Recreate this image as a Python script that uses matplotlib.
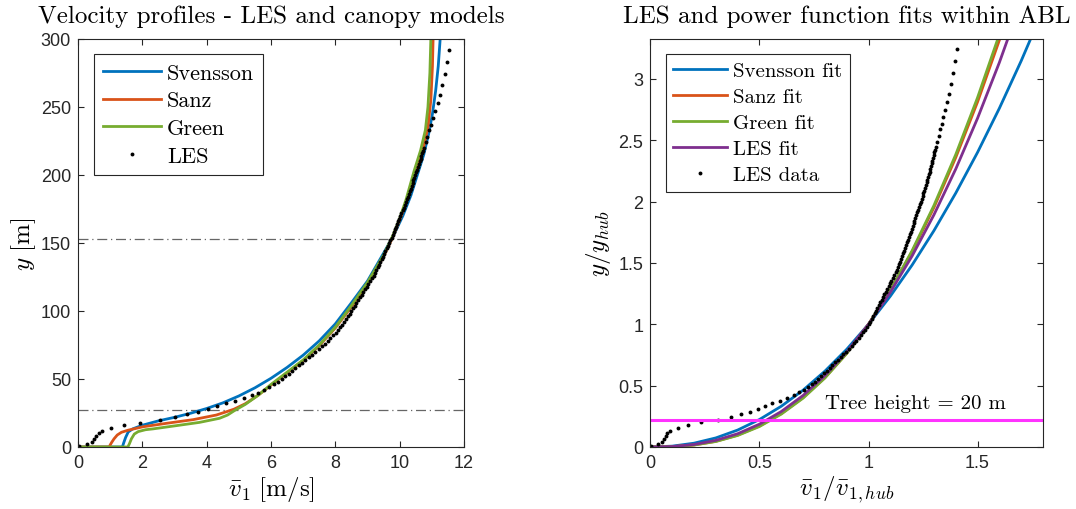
import matplotlib
matplotlib.use('Agg')
import matplotlib.pyplot as plt

plt.rcParams['mathtext.fontset'] = 'cm'
plt.rcParams['font.family'] = ['Liberation Sans', 'DejaVu Sans']

# LES profile: height [m] and mean streamwise velocity [m/s]
les_height = [1, 2, 4, 6, 8, 10, 12, 14, 16, 18, 20, 22, 24, 26, 28, 30, 32, 34, 36, 38,
              40, 42, 44, 46, 48, 50, 52, 54, 56, 58, 60, 62, 64, 66, 68, 70, 72, 74, 76, 78,
              80, 82, 84, 86, 88, 90, 92, 94, 96, 98, 100, 102, 104, 106, 108, 110, 112, 114,
              116, 118, 120, 122, 124, 126, 128, 130, 132, 134, 136, 138, 140, 142, 144, 146,
              148, 150, 152, 154, 156, 158, 160, 162, 164, 166, 168, 170, 172, 174, 176, 178,
              180, 182, 184, 186, 188, 190, 192, 194, 196, 198, 200, 202, 204, 206, 208, 210,
              212, 214, 216, 218, 220, 224, 228, 233, 237, 242, 247, 253, 259, 266, 274, 283, 292]
les_velocity = [0.02, 0.28, 0.43, 0.51, 0.57, 0.64, 0.75, 1.03, 1.42, 1.92, 2.55, 3.02, 3.40, 3.74,
                4.04, 4.32, 4.60, 4.88, 5.15, 5.40, 5.60, 5.78, 5.95, 6.10, 6.22, 6.33, 6.44, 6.55,
                6.66, 6.76, 6.86, 6.96, 7.06, 7.17, 7.27, 7.38, 7.48, 7.58, 7.67, 7.76, 7.85, 7.93,
                8.01, 8.08, 8.15, 8.22, 8.28, 8.34, 8.40, 8.45, 8.50, 8.55, 8.60, 8.65, 8.71, 8.77,
                8.82, 8.87, 8.92, 8.98, 9.03, 9.08, 9.14, 9.19, 9.24, 9.28, 9.32, 9.36, 9.40, 9.44,
                9.48, 9.52, 9.56, 9.60, 9.64, 9.68, 9.71, 9.75, 9.78, 9.82, 9.85, 9.88, 9.92, 9.95,
                9.99, 10.02, 10.05, 10.09, 10.12, 10.16, 10.19, 10.22, 10.26, 10.29, 10.32, 10.35,
                10.38, 10.41, 10.43, 10.46, 10.49, 10.52, 10.54, 10.57, 10.60, 10.62, 10.65, 10.67,
                10.70, 10.73, 10.76, 10.81, 10.86, 10.92, 10.98, 11.04, 11.11, 11.18, 11.25, 11.33,
                11.40, 11.47, 11.55]

# canopy models (velocity, height)
svensson_v = [0, 1.38, 1.42, 1.48, 1.56, 1.70, 2.0, 2.5, 3.0, 3.5, 4.0, 4.5, 5.0, 5.5, 6.0, 6.5,
              7.0, 7.5, 8.0, 8.5, 9.0, 9.5, 9.8, 10.1, 10.35, 10.55, 10.75, 10.9, 11.02, 11.12, 11.2, 11.26]
svensson_y = [0, 0, 3, 7, 11, 13.3, 16, 19.2, 21.8, 24.8, 28.3, 32.4, 37.5, 43.5, 50.5, 58.5,
              67.5, 78, 90.5, 106, 122, 142.5, 155, 170, 185, 200, 215, 230, 245, 262, 280, 300]
sanz_v = [0, 0.97, 1.0, 1.05, 1.12, 1.22, 1.35, 1.55, 2.03, 2.75, 3.58, 4.3, 4.6, 4.85, 5.2, 5.6,
          6.0, 6.5, 7.0, 7.5, 8.0, 8.5, 9.0, 9.5, 9.8, 10.05, 10.3, 10.5, 10.72, 10.88, 10.97, 11.02, 11.04]
sanz_y = [0, 0, 1.5, 3.5, 6, 8.8, 10.8, 12.3, 14.9, 17.4, 20.1, 23.5, 25.8, 27.8, 31.8, 38,
          45.5, 54.5, 63.5, 74.5, 87.5, 103, 120, 140, 155, 170, 187, 203, 218, 235, 255, 280, 300]
green_v = [0, 1.55, 1.6, 1.66, 1.75, 1.87, 2.1, 2.33, 3.06, 3.78, 4.4, 4.65, 4.88, 5.2, 5.6, 6.0,
           6.5, 7.0, 7.5, 8.0, 8.5, 9.0, 9.5, 9.8, 10.0, 10.2, 10.45, 10.65, 10.8, 10.88, 10.94, 10.97]
green_y = [0, 0, 2.5, 6, 9.5, 11.3, 12.7, 13.3, 15.7, 18.1, 21.1, 23.5, 27, 31.3, 38, 46,
           55, 64, 75, 88, 104, 121, 141, 156, 168, 182, 203, 218, 233, 250, 275, 300]

rotor_bottom = 27
rotor_top = 153
y_hub = 90.0
v_hub = 8.22
tree_height = 20

# power function fits, normalised
fit_ratio = [0, 0.1, 0.2, 0.3, 0.4, 0.5, 0.6, 0.7, 0.8, 0.9, 1.0, 1.1, 1.2, 1.3, 1.4, 1.5, 1.6, 1.7, 1.8]
svensson_fit = [0, 0.0069, 0.031, 0.074, 0.138, 0.224, 0.332, 0.463, 0.618, 0.796, 1.0,
                1.229, 1.483, 1.763, 2.069, 2.401, 2.760, 3.146, 3.56]
sanz_fit = [0, 0.0028, 0.0165, 0.0464, 0.0966, 0.171, 0.272, 0.403, 0.566, 0.764, 1.0,
            1.275, 1.592, 1.952, 2.359, 2.812, 3.315, 3.87, 4.48]
green_fit = [0, 0.0026, 0.0157, 0.0448, 0.094, 0.167, 0.268, 0.398, 0.562, 0.762, 1.0,
             1.279, 1.600, 1.968, 2.383, 2.847, 3.362, 3.93, 4.56]
les_fit = [0, 0.0037, 0.020, 0.054, 0.108, 0.186, 0.289, 0.420, 0.581, 0.774, 1.0,
           1.261, 1.557, 1.892, 2.265, 2.679, 3.133, 3.63, 4.17]

blue = '#0072BD'
orange = '#D95319'
green = '#77AC30'
purple = '#7E2F8E'
cm_font = ['cmr10', 'DejaVu Serif']

fig = plt.figure(figsize=(10.76, 5.10), dpi=100)
ax1 = fig.add_axes([0.0725, 0.1216, 0.3587, 0.80])
ax2 = fig.add_axes([0.6045, 0.1216, 0.3648, 0.80])

# left panel
ax1.axhline(rotor_bottom, color='#666666', lw=0.9, ls='-.', dashes=(8, 3, 1, 3))
ax1.axhline(rotor_top, color='#666666', lw=0.9, ls='-.', dashes=(8, 3, 1, 3))
ax1.plot(svensson_v, svensson_y, color=blue, lw=2, label='Svensson')
ax1.plot(sanz_v, sanz_y, color=orange, lw=2, label='Sanz')
ax1.plot(green_v, green_y, color=green, lw=2, label='Green')
ax1.plot(les_velocity, les_height, 'o', color='k', ms=2.8, mew=0, label='LES')
ax1.set_xlim(0, 12)
ax1.set_ylim(0, 300)
ax1.set_xticks(range(0, 13, 2))
ax1.set_yticks(range(0, 301, 50))
ax1.set_title('Velocity profiles - LES and canopy models', family=cm_font, fontsize=18, pad=12)
ax1.set_xlabel(r'$\bar{v}_1\ [\mathrm{m/s}]$', fontsize=18, labelpad=2)
ax1.set_ylabel(r'$y\ [\mathrm{m}]$', fontsize=18, labelpad=2)
leg1 = ax1.legend(loc='upper left', bbox_to_anchor=(0.041, 0.963), borderaxespad=0,
                  prop={'family': cm_font, 'size': 16}, handlelength=2.6, handletextpad=0.3,
                  labelspacing=0.37, borderpad=0.4, fancybox=False, edgecolor='#262626',
                  framealpha=1)
leg1.get_frame().set_linewidth(0.8)

# right panel
les_ratio = [v / v_hub for v in les_velocity]
les_norm_y = [h / y_hub for h in les_height]
ax2.plot(fit_ratio, svensson_fit, color=blue, lw=2, label='Svensson fit')
ax2.plot(fit_ratio, sanz_fit, color=orange, lw=2, label='Sanz fit')
ax2.plot(fit_ratio, green_fit, color=green, lw=2, label='Green fit')
ax2.plot(fit_ratio, les_fit, color=purple, lw=2, label='LES fit')
ax2.plot(les_ratio, les_norm_y, 'o', color='k', ms=2.8, mew=0, label='LES data')
ax2.axhline(tree_height / y_hub, color='#FF33FF', lw=2.2)
ax2.text(0.80, 0.36, 'Tree height = 20 m', family=cm_font, fontsize=15, va='center')
ax2.set_xlim(0, 1.8)
ax2.set_ylim(0, 3.325)
ax2.set_xticks([0, 0.5, 1, 1.5])
ax2.set_xticklabels(['0', '0.5', '1', '1.5'])
ax2.set_yticks([0, 0.5, 1, 1.5, 2, 2.5, 3])
ax2.set_yticklabels(['0', '0.5', '1', '1.5', '2', '2.5', '3'])
ax2.set_title('LES and power function fits within ABL', family=cm_font, fontsize=18, pad=12)
ax2.set_xlabel(r'$\bar{v}_1/\bar{v}_{1,hub}$', fontsize=18, labelpad=2)
ax2.set_ylabel(r'$y/y_{hub}$', fontsize=18, labelpad=4)
leg2 = ax2.legend(loc='upper left', bbox_to_anchor=(0.039, 0.963), borderaxespad=0,
                  prop={'family': cm_font, 'size': 15}, handlelength=2.6, handletextpad=0.3,
                  labelspacing=0.36, borderpad=0.35, fancybox=False, edgecolor='#262626',
                  framealpha=1)
leg2.get_frame().set_linewidth(0.8)

for ax in (ax1, ax2):
    ax.tick_params(direction='in', length=4, width=0.8, top=True, right=True,
                   labelsize=13, colors='#262626', labelcolor='#262626', pad=5)
    for s in ax.spines.values():
        s.set_color('#262626')
        s.set_linewidth(0.8)

fig.savefig('out.png', dpi=100)
